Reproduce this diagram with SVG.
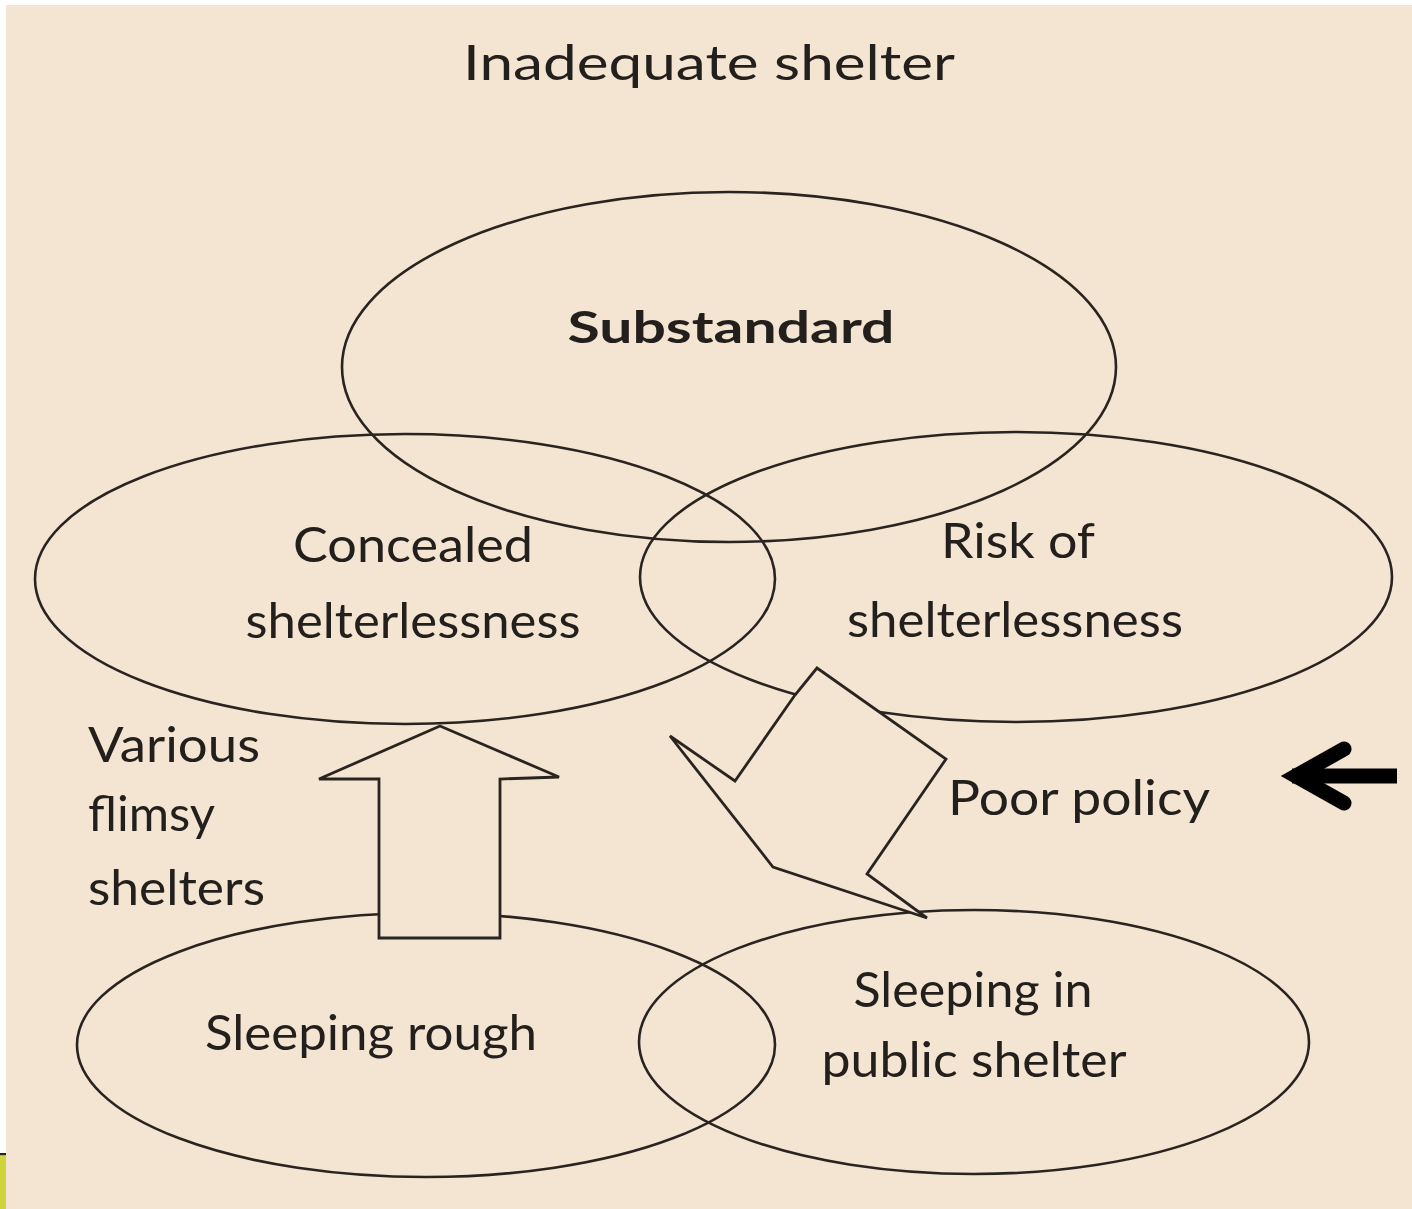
<svg xmlns="http://www.w3.org/2000/svg" width="1412" height="1209" viewBox="0 0 1412 1209">
  <style>
    .bg { fill: #f4e4d2; }
    .ring { fill: none; stroke: #2a2420; stroke-width: 2.6; }
    .shape { fill: #f4e4d2; stroke: #2a2420; stroke-width: 2.8; stroke-linejoin: miter; }
    .lbl { font-family: Lato, "Open Sans", "Liberation Sans", sans-serif; font-size: 48px; fill: #231f1c; text-anchor: middle; }
    .bold { font-weight: bold; font-size: 44px; }
    .left { text-anchor: start; }
  </style>

  <!-- page and margins -->
  <rect x="0" y="0" width="1412" height="1209" fill="#ffffff"/>
  <rect class="bg" x="6" y="5" width="1406" height="1204"/>
  <rect x="0" y="1153" width="6" height="2.5" fill="#222222"/>
  <rect x="0" y="1155.5" width="6" height="53.5" fill="#cfd43a"/>

  <!-- heading -->
  <text id="title" class="lbl" x="709" y="80" textLength="492" lengthAdjust="spacingAndGlyphs">Inadequate shelter</text>

  <!-- nodes -->
  <g id="substandard">
    <ellipse class="ring" cx="729" cy="367" rx="387" ry="175"/>
    <text class="lbl bold" x="731" y="343" textLength="327" lengthAdjust="spacingAndGlyphs">Substandard</text>
  </g>
  <g id="concealed">
    <ellipse class="ring" cx="405" cy="579" rx="370" ry="145"/>
    <text class="lbl" x="413" y="562" textLength="240" lengthAdjust="spacingAndGlyphs">Concealed</text>
    <text class="lbl" x="413" y="638" textLength="335" lengthAdjust="spacingAndGlyphs">shelterlessness</text>
  </g>
  <g id="risk">
    <ellipse class="ring" cx="1016" cy="577" rx="376" ry="145"/>
    <text class="lbl" x="1018" y="558" textLength="154" lengthAdjust="spacingAndGlyphs">Risk of</text>
    <text class="lbl" x="1015" y="637" textLength="336" lengthAdjust="spacingAndGlyphs">shelterlessness</text>
  </g>
  <g id="rough">
    <ellipse class="ring" cx="426" cy="1045" rx="349" ry="132"/>
    <text class="lbl" x="371" y="1050" textLength="332" lengthAdjust="spacingAndGlyphs">Sleeping rough</text>
  </g>
  <g id="public">
    <ellipse class="ring" cx="974" cy="1042" rx="335" ry="132"/>
    <text class="lbl" x="973" y="1007" textLength="239" lengthAdjust="spacingAndGlyphs">Sleeping in</text>
    <text class="lbl" x="974" y="1077" textLength="305" lengthAdjust="spacingAndGlyphs">public shelter</text>
  </g>

  <!-- connectors -->
  <g id="connectors">
    <polygon class="shape" points="440,726 559,777 500,779 500,938 379,938 379,779 319,779"/>
    <polygon class="shape" points="817,668 946,759 867,874 927,918 773,867 670,736 735,781 795,695"/>
    <g stroke="#000000" stroke-width="15" fill="none">
      <line x1="1292" y1="776" x2="1397" y2="776"/>
      <polyline points="1344,749 1296,776 1344,803" stroke-linecap="round" stroke-linejoin="miter"/>
    </g>
  </g>

  <!-- side notes -->
  <text id="various" class="lbl left" x="88" y="762" textLength="172" lengthAdjust="spacingAndGlyphs">Various</text>
  <text id="flimsy" class="lbl left" x="88" y="831" textLength="127" lengthAdjust="spacingAndGlyphs">flimsy</text>
  <text id="shelters" class="lbl left" x="88" y="905" textLength="177" lengthAdjust="spacingAndGlyphs">shelters</text>
  <text id="policy" class="lbl left" x="948" y="815" textLength="262" lengthAdjust="spacingAndGlyphs">Poor policy</text>
</svg>
